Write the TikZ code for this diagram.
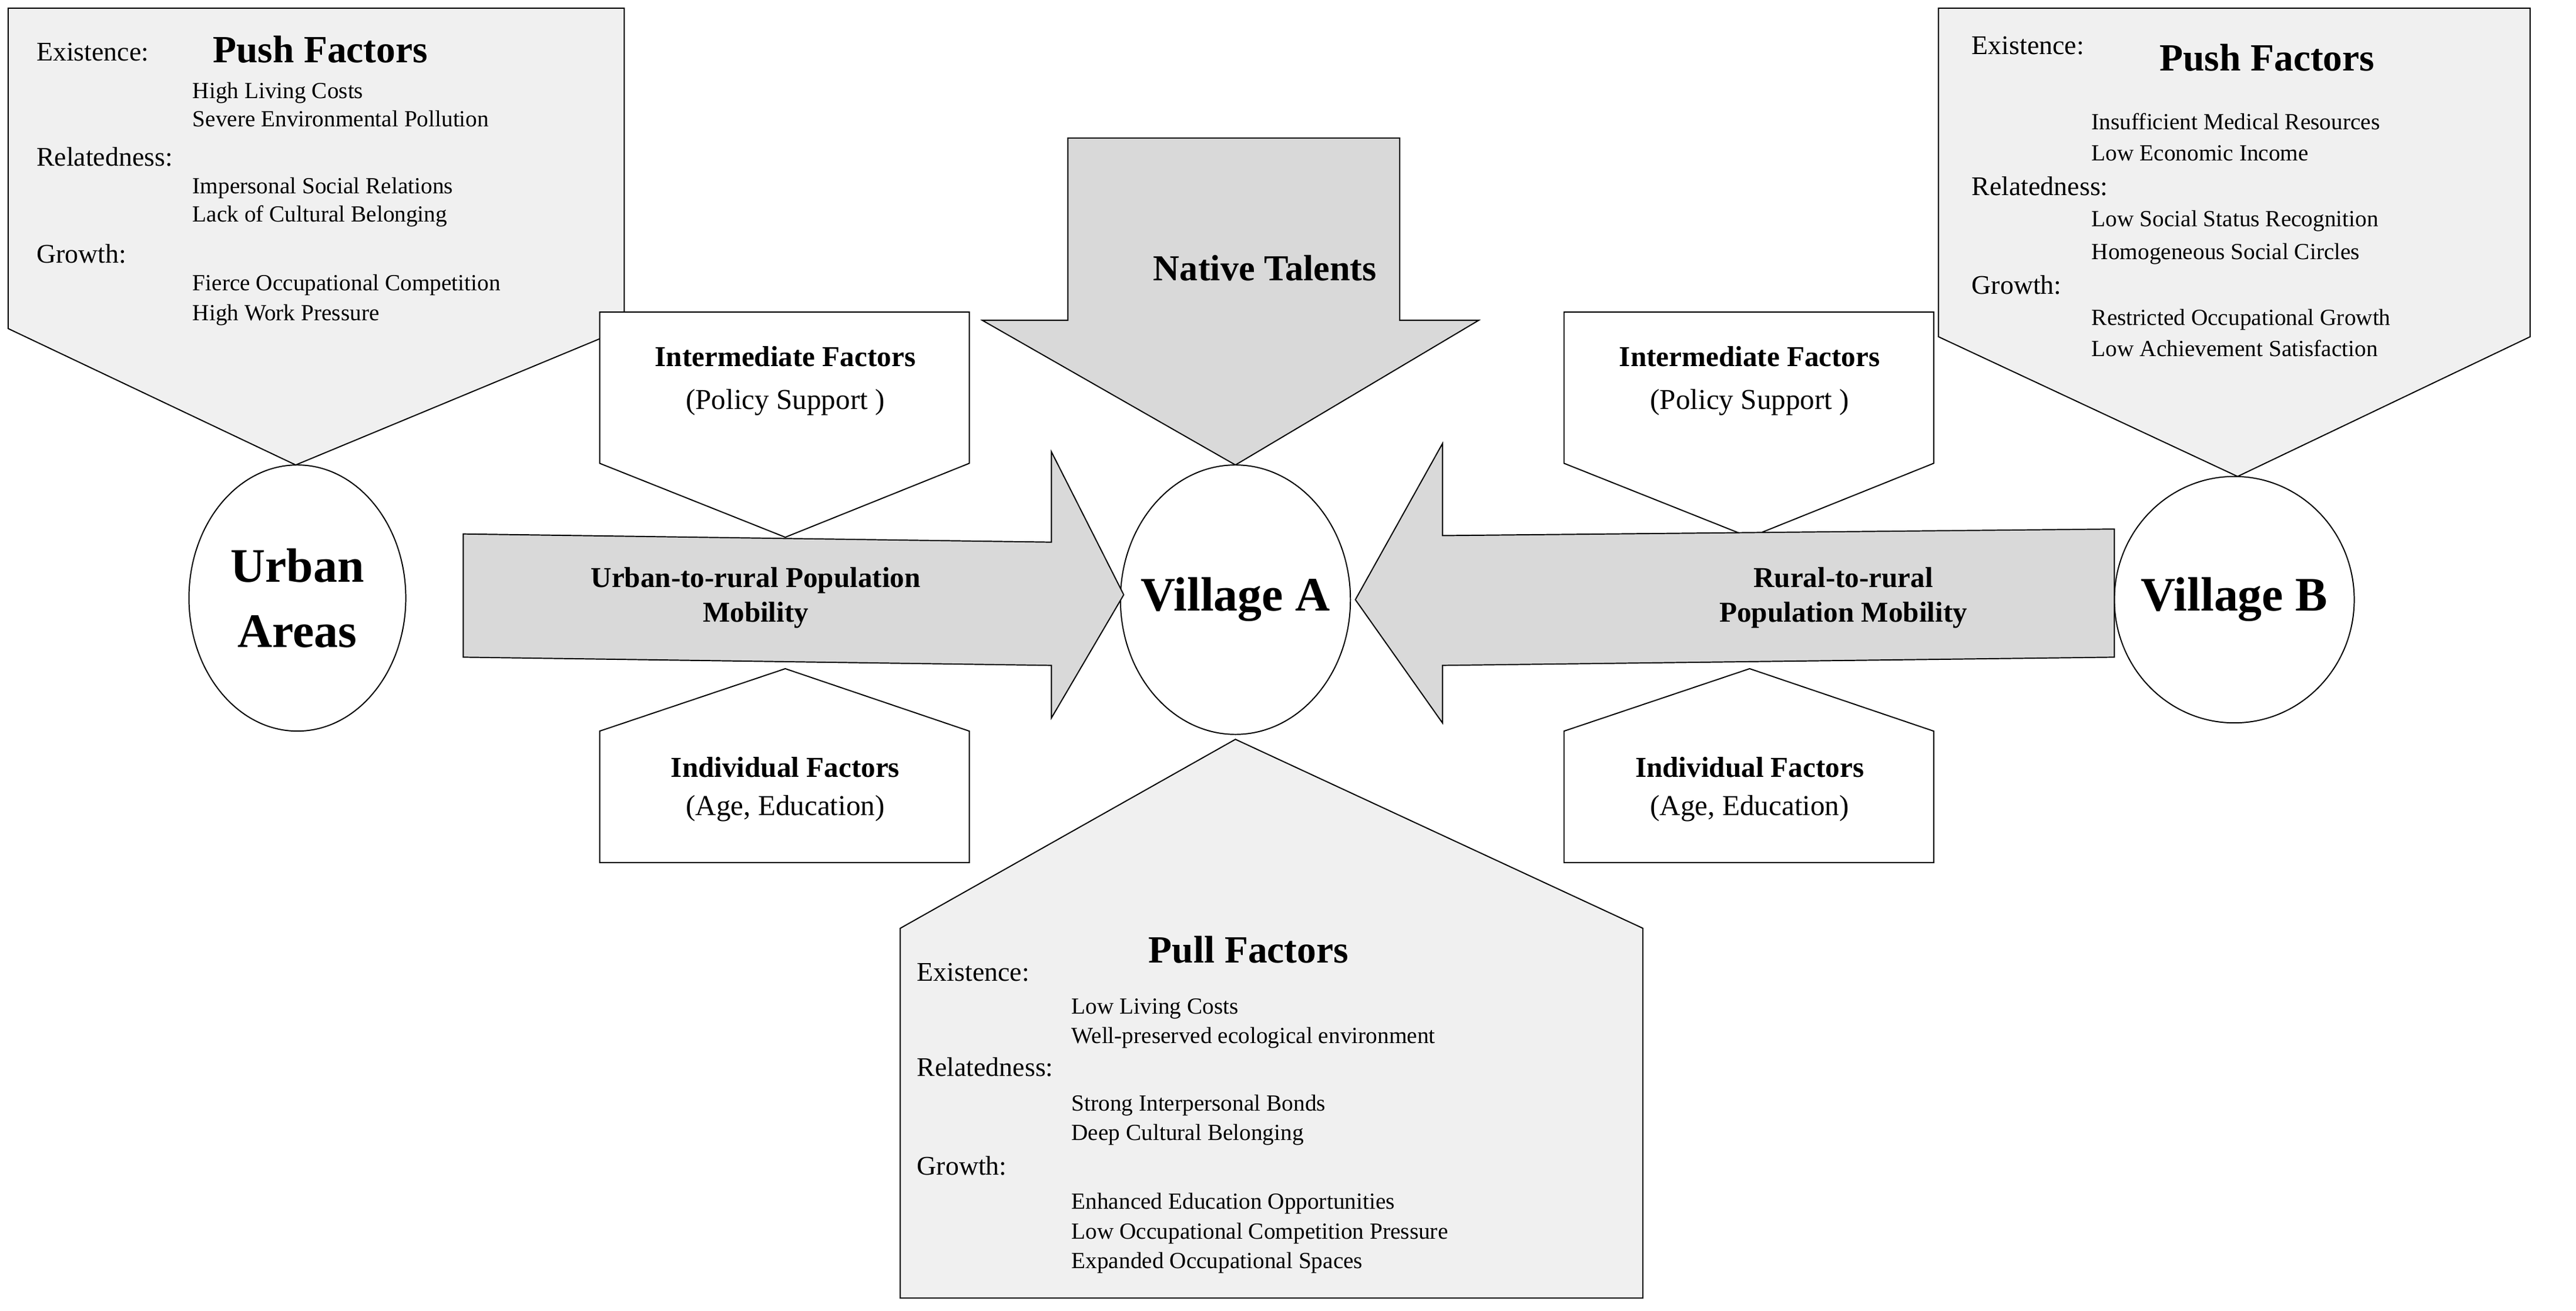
\documentclass[tikz,border=0pt]{standalone}
\usepackage{fontspec}
\setmainfont{Liberation Serif}
\begin{document}
\begin{tikzpicture}[x=0.03cm,y=-0.03cm,
  shp/.style={draw=black,line width=0.6pt,line join=miter},
  lite/.style={shp,fill=gray!12},
  dark/.style={shp,fill=gray!30},
  wht/.style={shp,fill=white},
  ttl/.style={font=\fontsize{20}{22}\selectfont\bfseries},
  big/.style={font=\fontsize{25}{30}\selectfont\bfseries,align=center},
  lbl/.style={font=\fontsize{15}{18}\selectfont\bfseries,align=center},
  sub/.style={font=\fontsize{15}{18}\selectfont,align=center},
  hd/.style={anchor=base west,font=\fontsize{14}{16}\selectfont,inner sep=0pt},
  it/.style={anchor=base west,font=\fontsize{12}{14}\selectfont,inner sep=0pt}]
\useasboundingbox (0,0) rectangle (1568,797.6);
% push left
\draw[lite] (5,5)--(380,5)--(380,200)--(180,283)--(5,200)--cycle;
\node[ttl] (plt) at (195,30) {Push Factors};
\node[hd] (l1) at (22,37) {Existence:};
\node[it] (l2) at (117,60) {High Living Costs};
\node[it] (l3) at (117,77) {Severe Environmental Pollution};
\node[hd] (l4) at (22,101) {Relatedness:};
\node[it] (l5) at (117,118) {Impersonal Social Relations};
\node[it] (l6) at (117,135) {Lack of Cultural Belonging};
\node[hd] (l7) at (22,160) {Growth:};
\node[it] (l8) at (117,177) {Fierce Occupational Competition};
\node[it] (l9) at (117,195) {High Work Pressure};
% push right
\draw[lite] (1180,5)--(1540,5)--(1540,205)--(1362,290)--(1180,205)--cycle;
\node[ttl] (prt) at (1380,35) {Push Factors};
\node[hd] (r1) at (1200,33) {Existence:};
\node[it] (r2) at (1273,79) {Insufficient Medical Resources};
\node[it] (r3) at (1273,98) {Low Economic Income};
\node[hd] (r4) at (1200,119) {Relatedness:};
\node[it] (r5) at (1273,138) {Low Social Status Recognition};
\node[it] (r6) at (1273,158) {Homogeneous Social Circles};
\node[hd] (r7) at (1200,179) {Growth:};
\node[it] (r8) at (1273,198) {Restricted Occupational Growth};
\node[it] (r9) at (1273,217) {Low Achievement Satisfaction};
% native talents
\draw[dark] (650,84)--(852,84)--(852,195)--(900,195)--(752,283)--(598,195)--(650,195)--cycle;
\node[font=\fontsize{19}{22}\selectfont\bfseries] (nt) at (770,163) {Native Talents};
% ellipses
\draw[wht] (181,364) ellipse [x radius=66,y radius=81];
\node[big] (ua) at (181,364) {Urban\\[4pt]Areas};
\draw[wht] (752,365) ellipse [x radius=70,y radius=82];
\node[big] (va) at (752,365) {Village A};
\draw[wht] (1360,365) ellipse [x radius=73,y radius=75];
\node[big] (vb) at (1360,365) {Village B};
% intermediate factors
\foreach \c/\n in {478/il,1065/ir}{
 \draw[wht] (\c-113,190)--(\c+112,190)--(\c+112,282)--(\c,327)--(\c-113,282)--cycle;
 \node[lbl] (\n a) at (\c,217) {Intermediate Factors};
 \node[sub] (\n b) at (\c,245) {(Policy Support )};
 \draw[wht] (\c,407)--(\c+112,445)--(\c+112,525)--(\c-113,525)--(\c-113,445)--cycle;
 \node[lbl] (\n c) at (\c,467) {Individual Factors};
 \node[sub] (\n d) at (\c,492) {(Age, Education)};
}
% mobility arrows
\draw[dark] (282,325)--(640,330)--(640,275)--(684,362)--(640,437)--(640,405)--(282,400)--cycle;
\node[lbl] (um) at (460,364) {Urban-to-rural Population\\Mobility};
\draw[dark] (825,365)--(878,270)--(878,326)--(1287,322)--(1287,400)--(878,405)--(878,440)--cycle;
\node[lbl] (rm) at (1122,364) {Rural-to-rural\\Population Mobility};
% pull
\draw[lite] (752,450)--(1000,565)--(1000,790)--(548,790)--(548,565)--cycle;
\node[ttl] (pl) at (760,578) {Pull Factors};
\node[hd] (p1) at (558,597) {Existence:};
\node[it] (p2) at (652,617) {Low Living Costs};
\node[it] (p3) at (652,635) {Well-preserved ecological environment};
\node[hd] (p4) at (558,655) {Relatedness:};
\node[it] (p5) at (652,676) {Strong Interpersonal Bonds};
\node[it] (p6) at (652,694) {Deep Cultural Belonging};
\node[hd] (p7) at (558,715) {Growth:};
\node[it] (p8) at (652,736) {Enhanced Education Opportunities};
\node[it] (p9) at (652,754) {Low Occupational Competition Pressure};
\node[it] (p10) at (652,772) {Expanded Occupational Spaces};
\end{tikzpicture}
\end{document}
